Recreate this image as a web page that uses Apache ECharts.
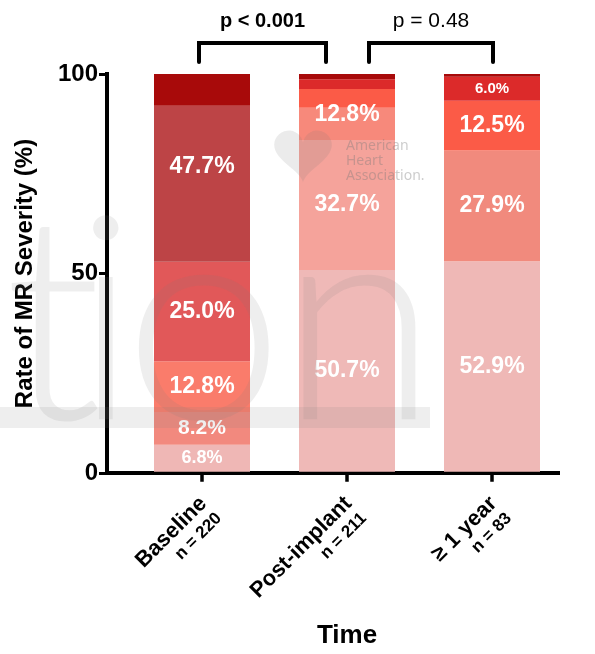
<!DOCTYPE html>
<html>
<head>
<meta charset="utf-8">
<script src="https://cdn.jsdelivr.net/npm/echarts@6/dist/echarts.min.js"></script>
<style>
  html, body { margin: 0; padding: 0; background: #fff; }
  #chart { width: 595px; height: 654px; }
</style>
</head>
<body>
<div id="chart"></div>
<script>
// Time points and cohort sizes
const categories = ['Baseline', 'Post-implant', '\u2265 1 year'];
const sampleSizes = [220, 211, 83];
const yTicks = [0, 50, 100];

// MR severity layers (% of patients), stacked from least (bottom) to most severe (top)
const grade1 = [6.8, 50.7, 52.9];
const grade2 = [8.2, 32.7, 27.9];
const grade3 = [12.8, 8.1, 12.5];
const grade4 = [25.0, 4.7, 6.0];
const grade5 = [39.2, 2.5, 0.7];
const grade6 = [8.5, 1.3, 0];

// Which layers each printed percentage covers, per time point
const labelGroups = [
  [[0], [1], [2], [3], [4, 5]],
  [[0], [1], [2, 3]],
  [[0], [1], [2], [3]]
];

// Significance brackets between time points
const comparisons = [
  { from: 0, to: 1, text: 'p < 0.001', bold: true },
  { from: 1, to: 2, text: 'p = 0.48', bold: false }
];

// ---- styling ----
const FONT = '"Liberation Sans", Arial, Helvetica, sans-serif';
const layerColors = [
  ['#efb7b5', '#efb9b7', '#efb8b6'],
  ['#f2897e', '#f5a39b', '#f18a7d'],
  ['#fa7c6b', '#f7897b', '#fb5b47'],
  ['#e15859', '#fb5b47', '#dc2a2a'],
  ['#bd4446', '#dc2a2a', '#a80a0a'],
  ['#a80a0a', '#a80a0a', '#a80a0a']
];
const labelSizes = [[18, 21, 23, 23, 23], [23, 23, 23], [23, 23, 23, 15]];
const bracketInsets = [[-3, -21], [22, 1]];
const WM = 'rgba(120,120,120,0.13)';

// outline of the heart emblem in the watermark
function heartOutline(cx, cy, s) {
  const pts = [];
  for (let k = 0; k < 72; k++) {
    const t = (k / 72) * Math.PI * 2;
    const hx = 16 * Math.pow(Math.sin(t), 3);
    const hy = 13 * Math.cos(t) - 5 * Math.cos(2 * t) - 2 * Math.cos(3 * t) - Math.cos(4 * t);
    pts.push([cx + hx * s, cy - hy * s]);
  }
  return pts;
}

const grades = [grade1, grade2, grade3, grade4, grade5, grade6];

const barSeries = grades.map((vals, li) => ({
  type: 'bar',
  stack: 'mr',
  barWidth: 96,
  silent: true,
  xAxisIndex: 0,
  yAxisIndex: 0,
  data: vals.map((v, ci) => ({ value: v, itemStyle: { color: layerColors[li][ci] } }))
}));

// Percentage labels, centred on the span of the layers they describe
const labelItems = [];
labelGroups.forEach((groups, ci) => {
  groups.forEach((g, gi) => {
    let start = 0;
    for (let k = 0; k < g[0]; k++) start += grades[k][ci];
    let sum = 0;
    g.forEach(k => { sum += grades[k][ci]; });
    labelItems.push({ value: [ci, start + sum / 2], text: sum.toFixed(1) + '%', size: labelSizes[ci][gi] });
  });
});

const labelSeries = {
  type: 'custom',
  silent: true,
  clip: false,
  z: 5,
  xAxisIndex: 0,
  yAxisIndex: 0,
  data: labelItems.map(d => d.value),
  renderItem(params, api) {
    const item = labelItems[params.dataIndex];
    const p = api.coord([api.value(0), api.value(1)]);
    return {
      type: 'text',
      x: p[0], y: p[1],
      style: {
        text: item.text, fill: '#fff',
        fontSize: item.size, fontWeight: 'bold', fontFamily: FONT,
        align: 'center', verticalAlign: 'middle'
      }
    };
  }
};

const bracketSeries = {
  type: 'custom',
  silent: true,
  clip: false,
  z: 5,
  xAxisIndex: 0,
  yAxisIndex: 0,
  data: comparisons.map(c => [c.from, c.to]),
  renderItem(params, api) {
    const c = comparisons[params.dataIndex];
    const ins = bracketInsets[params.dataIndex];
    const a = api.coord([api.value(0), 100]);
    const b = api.coord([api.value(1), 100]);
    const x1 = a[0] + ins[0], x2 = b[0] + ins[1];
    const top = a[1] - 31, foot = a[1] - 12;
    return {
      type: 'group',
      children: [
        {
          type: 'polyline',
          shape: { points: [[x1, foot], [x1, top], [x2, top], [x2, foot]] },
          style: { stroke: '#000', lineWidth: 4, fill: null, lineJoin: 'miter', lineCap: 'round' }
        },
        {
          type: 'text',
          x: (x1 + x2) / 2, y: a[1] - 53,
          style: {
            text: c.text, fill: '#000', fontSize: c.bold ? 20 : 21,
            fontWeight: c.bold ? 'bold' : 'normal', fontFamily: FONT,
            align: 'center', verticalAlign: 'middle'
          }
        }
      ]
    };
  }
};

const chart = echarts.init(document.getElementById('chart'), null, { renderer: 'canvas' });

chart.setOption({
  animation: false,
  backgroundColor: '#fff',
  grid: [
    // plotting band for the bars
    { left: 129.5, right: 30.5, top: 74, bottom: 181 },
    // frame carrying the visible axis lines
    { left: 107, right: 37, top: 74, bottom: 181 }
  ],
  xAxis: [
    {
      gridIndex: 0,
      type: 'category',
      data: categories,
      axisLine: { show: false },
      axisTick: { show: true, alignWithLabel: true, length: 10, lineStyle: { color: '#000', width: 3.5 } },
      axisLabel: {
        show: true,
        rotate: 45,
        margin: 27,
        padding: [24, 0, 0, 0],
        formatter: (v, i) => '{a|' + v + '}\n{b|n = ' + sampleSizes[i] + '}',
        rich: {
          a: { fontSize: 22, fontWeight: 'bold', fontFamily: FONT, color: '#000', align: 'right', lineHeight: 24 },
          b: { fontSize: 17, fontWeight: 'bold', fontFamily: FONT, color: '#000', align: 'right', lineHeight: 20 }
        }
      },
      name: 'Time',
      nameLocation: 'middle',
      nameGap: 150,
      nameTextStyle: { fontSize: 26, fontWeight: 'bold', fontFamily: FONT, color: '#000' }
    },
    {
      gridIndex: 1,
      type: 'value',
      min: 0,
      max: 1,
      splitLine: { show: false },
      axisTick: { show: false },
      axisLabel: { show: false },
      axisLine: { show: true, lineStyle: { color: '#000', width: 4, cap: 'square' } }
    }
  ],
  yAxis: [
    {
      gridIndex: 0,
      type: 'value',
      min: 0,
      max: 100,
      show: false
    },
    {
      gridIndex: 1,
      type: 'value',
      min: 0,
      max: 100,
      interval: 50,
      splitLine: { show: false },
      axisLine: { show: true, lineStyle: { color: '#000', width: 4, cap: 'square' } },
      axisTick: { show: true, length: 8, lineStyle: { color: '#000', width: 3 } },
      axisLabel: {
        margin: 9,
        fontSize: 24, fontWeight: 'bold', fontFamily: FONT, color: '#000',
        formatter: v => (yTicks.indexOf(v) >= 0 ? String(v) : '')
      },
      name: 'Rate of MR Severity (%)',
      nameLocation: 'middle',
      nameGap: 70,
      nameTextStyle: { fontSize: 24, fontWeight: 'bold', fontFamily: FONT, color: '#000' }
    }
  ],
  graphic: [
    // faint journal watermark lying over the plot
    { type: 'rect', z: 100, silent: true, shape: { x: 0, y: 407, width: 430, height: 21 }, style: { fill: WM } },
    { type: 'text', z: 100, silent: true, x: 4, y: 327, style: { text: 't', fontSize: 286, fontWeight: 300, fontFamily: 'Lato', fill: WM, align: 'left', verticalAlign: 'middle' } },
    { type: 'text', z: 100, silent: true, x: 74, y: 327, style: { text: 'i', fontSize: 286, fontWeight: 300, fontFamily: 'Lato', fill: WM, align: 'left', verticalAlign: 'middle' } },
    { type: 'text', z: 100, silent: true, x: 124, y: 327, style: { text: 'o', fontSize: 286, fontWeight: 300, fontFamily: 'Lato', fill: WM, align: 'left', verticalAlign: 'middle' } },
    { type: 'text', z: 100, silent: true, x: 280, y: 327, style: { text: 'n', fontSize: 286, fontWeight: 300, fontFamily: 'Lato', fill: WM, align: 'left', verticalAlign: 'middle' } },
    { type: 'polygon', z: 100, silent: true, shape: { points: heartOutline(303, 152, 1.8) }, style: { fill: 'rgba(120,120,120,0.15)' } },
    { type: 'text', z: 100, silent: true, x: 346, y: 161, style: { text: 'American\nHeart\nAssociation.', fontSize: 14, lineHeight: 15, fontFamily: '"Noto Sans", sans-serif', fill: 'rgba(120,120,120,0.38)', align: 'left', verticalAlign: 'middle' } }
  ],
  series: [...barSeries, labelSeries, bracketSeries]
});
</script>
</body>
</html>
